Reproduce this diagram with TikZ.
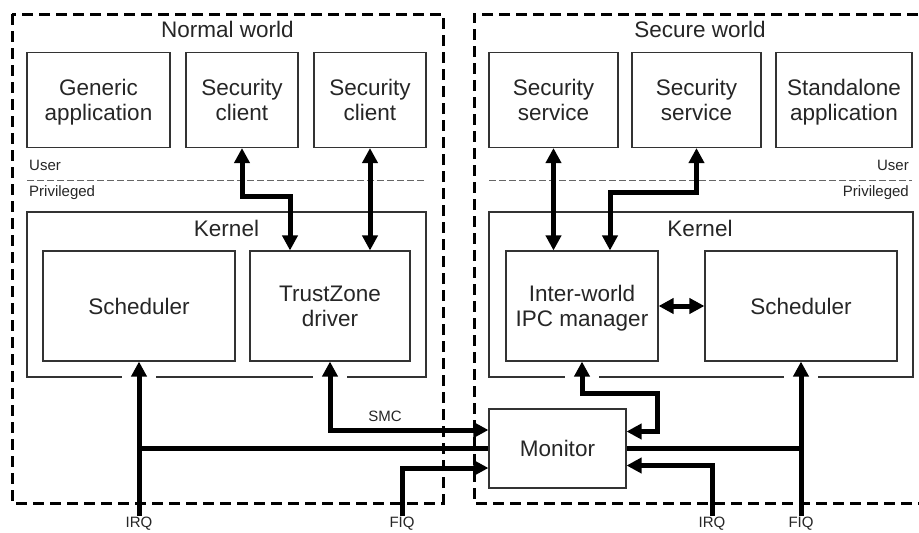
\documentclass[tikz,border=0pt]{standalone}
\usepackage{fontspec}
\setmainfont{Liberation Sans}
\usetikzlibrary{arrows.meta,positioning,calc}

\tikzset{
  blk/.style={draw=black!80,line width=1.1pt,minimum height=95pt,inner sep=2pt,align=center,text depth=0pt,font=\fontsize{22.5}{25}\selectfont,text=black!85},
  world/.style={draw=black,line width=3pt,dash pattern=on 11pt off 6pt},
  modeline/.style={draw=black!60,line width=0.9pt,dash pattern=on 7pt off 3pt},
  small/.style={font=\fontsize{15}{18}\selectfont,text=black!85,inner sep=1pt},
  ttl/.style={font=\fontsize{22.5}{25}\selectfont,text=black!85,inner sep=1pt},
  thk/.style={line width=5pt,line join=miter},
  arr/.style={thk,-{Triangle[length=15pt,width=15pt]}},
  dbl/.style={thk,{Triangle[length=15pt,width=15pt]}-{Triangle[length=15pt,width=15pt]}},
}

\begin{document}
\begin{tikzpicture}[x=1pt,y=-1pt]
\useasboundingbox (0,0) rectangle (919,533);
\clip (0,0) rectangle (919,533);
\fill[white] (0,0) rectangle (919,533);
% worlds
\draw[world] (12,14) rectangle (443,503);
\draw[world] (935,14) -- (474,14) -- (474,503) -- (935,503);
\node[ttl] (tnw) at (227.5,29) {Normal world};
\node[ttl] (tsw) at (700,29) {Secure world};
% user / privileged
\draw[modeline] (27,180) -- (426,180);
\draw[modeline] (489,180) -- (912,180);
\node[small,anchor=west] (unw) at (28,165) {User};
\node[small,anchor=west] (pnw) at (28,193) {Privileged};
\node[small,anchor=east] (usw) at (910,165) {User};
\node[small,anchor=east] (psw) at (910,193) {Privileged};
% user space
\node[blk,minimum width=143pt] (gen) at (98.5,100) {Generic\\application};
\node[blk,minimum width=112pt] (scA) at (242,100) {Security\\client};
\node[blk,minimum width=112pt] (scB) at (370,100) {Security\\client};
\node[blk,minimum width=129pt] (ssA) at (553.5,100) {Security\\service};
\node[blk,minimum width=129pt] (ssB) at (696.5,100) {Security\\service};
\node[blk,minimum width=136pt] (sapp) at (844,100) {Standalone\\application};
% kernels
\draw[draw=black!80,line width=1.1pt] (27,212) rectangle (426,377);
\draw[draw=black!80,line width=1.1pt] (489,212) rectangle (913,377);
\node[ttl] (knw) at (226.5,228) {Kernel};
\node[ttl] (ksw) at (700,228) {Kernel};
\node[blk,minimum width=192pt,minimum height=110pt] (nsched) at (139,306) {Scheduler};
\node[blk,minimum width=160pt,minimum height=110pt] (tzd) at (330,306) {TrustZone\\driver};
\node[blk,minimum width=152pt,minimum height=110pt] (ipc) at (582,306) {Inter-world\\IPC manager};
\node[blk,minimum width=192pt,minimum height=110pt] (ssched) at (801,306) {Scheduler};
\foreach \gx in {139,330,582,801}
  \fill[white] (\gx-17,373) rectangle (\gx+17,381);
% monitor
\node[blk,minimum width=137pt,minimum height=79pt] (mon) at (557.5,448.5) {Monitor};
% interrupt labels
\node[small] (irqA) at (139,524) {IRQ};
\node[small] (fiqA) at (402,524) {FIQ};
\node[small] (irqB) at (712,524) {IRQ};
\node[small] (fiqB) at (801,524) {FIQ};
% connectors
\draw[dbl] (scA.south) -- ++(0,48) -| ($(tzd.north)+(-40,0)$);
\draw[dbl] (scB.south) -- (scB.south |- tzd.north);
\draw[dbl] (ssA.south) -- (ssA.south |- ipc.north);
\draw[dbl] (ssB.south) -- ++(0,44) -| ($(ipc.north)+(28,0)$);
\draw[dbl] (ipc.east) -- (ssched.west);
\draw[dbl] (tzd.south) |- ($(mon.west)+(0,-18.5)$);
\node[small] (smc) at (385,416) {SMC};
\draw[arr] (irqA.north) -- (nsched.south);
\draw[thk] (nsched.south |- mon.west) -- (mon.west);
\draw[arr] (fiqA.north) |- ($(mon.west)+(0,19.5)$);
\draw[arr] (irqB.north) |- ($(mon.east)+(0,17)$);
\draw[arr] (fiqB.north) -- (ssched.south);
\draw[thk] (mon.east) -- (mon.east -| ssched.south);
\draw[dbl] ($(mon.east)+(0,-17)$) -| ++(31,-38) -| (ipc.south);
\end{tikzpicture}
\end{document}
